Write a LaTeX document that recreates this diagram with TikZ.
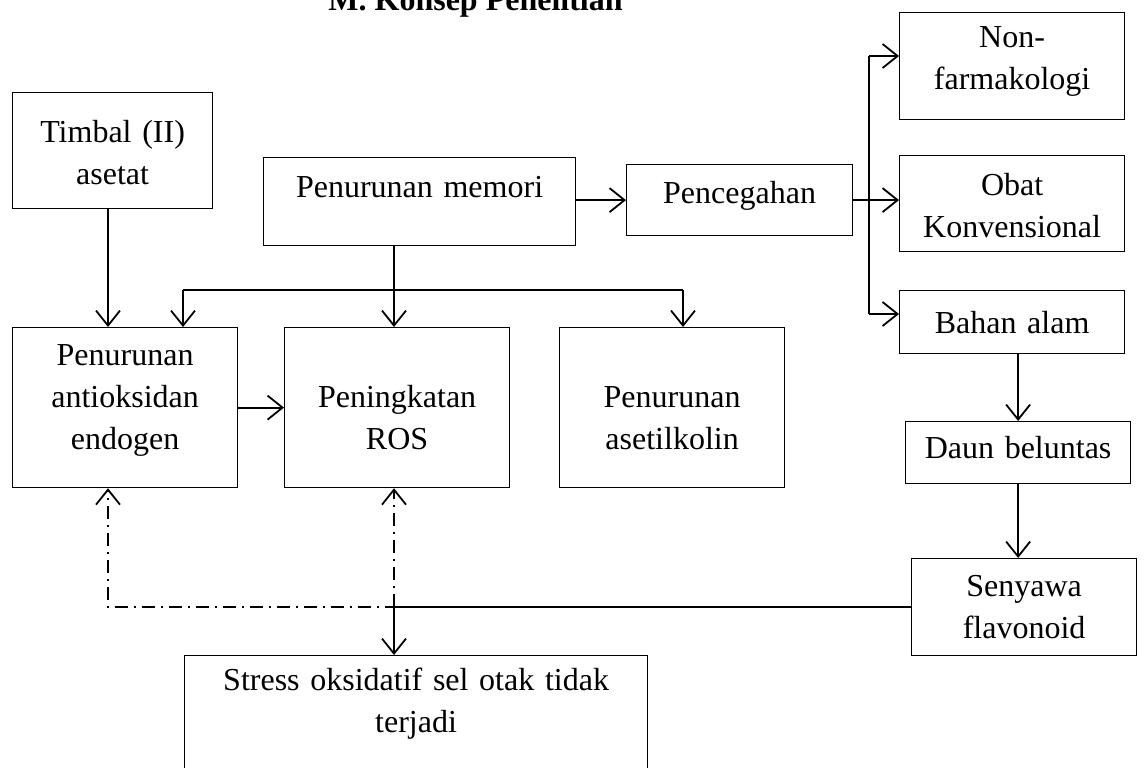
\documentclass[tikz,border=0pt]{standalone}
\usepackage{fontspec}
\setmainfont{Liberation Serif}
\usepackage{tikz}
\usetikzlibrary{arrows.meta}

\begin{document}
\begin{tikzpicture}[x=0.5pt,y=-0.5pt]
        % \tikzstyle{every path}=[very thick]

        \tikzstyle{kotak}=[draw,line width=0.6pt,inner sep=0pt,anchor=north west,align=center,font=\fontsize{16}{21}\selectfont]
        \tikzstyle{garis}=[line width=0.9pt]
        \tikzstyle{panah}=[garis,-{Straight Barb[length=7.5pt,width=12pt]}]
        \tikzstyle{putus}=[dash pattern=on 6.5pt off 3pt on 1pt off 3pt]

        \useasboundingbox (0,0) rectangle (1144,767);

        %% Judul
        \node [anchor=base west,inner sep=0pt,font=\fontsize{16}{21}\selectfont\bfseries] (judul) at (328,10) {M. Konsep Penelitian};

        %% Kotak kiri dan tengah
        \node [kotak,text width=100pt,text height=25pt,text depth=33pt] (timbal) at (12,92) {Timbal (II)\\asetat};
        \node [kotak,text width=156pt,text height=20pt,text depth=24pt] (memori) at (263,157) {Penurunan memori};
        \node [kotak,text width=113pt,text height=19.5pt,text depth=16pt] (cegah) at (626,164) {Pencegahan};

        \node [kotak,text width=112.5pt,text height=19pt,text depth=61pt] (antiok) at (12,327) {Penurunan\\antioksidan\\endogen};
        \node [kotak,text width=112.5pt,text height=40pt,text depth=40pt] (ros) at (284,327) {Peningkatan\\ROS};
        \node [kotak,text width=112.5pt,text height=40pt,text depth=40pt] (asetil) at (559,327) {Penurunan\\asetilkolin};

        \node [kotak,text width=231.5pt,text height=17.5pt,text depth=70pt] (stress) at (184,655) {Stress oksidatif sel otak tidak\\terjadi};

        %% Kotak kanan
        \node [kotak,text width=112.5pt,text height=17.5pt,text depth=36pt] (nonfarm) at (899,12) {Non-\\farmakologi};
        \node [kotak,text width=112.5pt,text height=20pt,text depth=28pt] (obat) at (899,155) {Obat\\Konvensional};
        \node [kotak,text width=112.5pt,text height=21.5pt,text depth=10pt] (bahan) at (899,290) {Bahan alam};
        \node [kotak,text width=112.5pt,text height=18.5pt,text depth=12.5pt] (daun) at (905,421) {Daun beluntas};
        \node [kotak,text width=112.5pt,text height=19pt,text depth=29.5pt] (flavo) at (911,558) {Senyawa\\flavonoid};

        %% Titik cabang
        \coordinate (kiri) at (108,607);
        \coordinate (cabang) at (394,290);
        \coordinate (ckiri) at (183,290);
        \coordinate (ckanan) at (683,290);
        \coordinate (bus1) at (869,56);
        \coordinate (bus3) at (869,314);
        \coordinate (simpang) at (flavo.west -| cabang);

        %% Panah
        \draw [panah] (timbal.south -| kiri) -- (antiok.north -| kiri);
        \draw [garis] (memori.south -| cabang) -- (cabang);
        \draw [garis] (ckiri) -- (ckanan);
        \draw [panah] (ckiri) -- (ckiri |- antiok.north);
        \draw [panah] (cabang) -- (cabang |- ros.north);
        \draw [panah] (ckanan) -- (ckanan |- asetil.north);
        \draw [panah] (antiok.east) -- (ros.west);
        \draw [panah] (memori.east |- cegah.west) -- (cegah.west);

        \draw [garis] (cegah.east) -- (cegah.east -| bus1);
        \draw [garis] (bus1) -- (bus3);
        \draw [panah] (bus1) -- (bus1 -| nonfarm.west);
        \draw [panah] (cegah.east -| bus1) -- (cegah.east -| obat.west);
        \draw [panah] (bus3) -- (bus3 -| bahan.west);
        \draw [panah] (bahan.south -| daun.north) -- (daun.north);
        \draw [panah] (daun.south) -- (daun.south |- flavo.north);

        \draw [garis] (flavo.west) -- (simpang);
        \draw [panah] (simpang) -- (simpang |- stress.north);
        \draw [panah,putus] (flavo.west) -| (antiok.south -| kiri);
        \draw [panah,putus] (simpang) -- (simpang |- ros.south);

\end{tikzpicture}
\end{document}
